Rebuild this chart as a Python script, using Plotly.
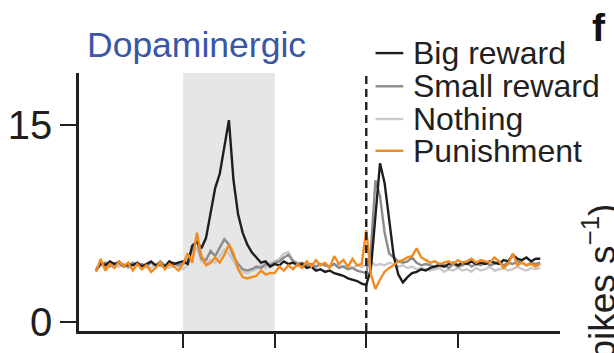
import numpy as np
import plotly.graph_objects as go

# time grid (s), 0.05 s sampling
time_s = [round(-0.95 + 0.05 * i, 2) for i in range(98)]

big_reward = [
    3.9, 4.5, 4.3, 4.6, 4.4, 4.5, 4.2, 4.4, 4.3, 4.5, 4.2, 4.4, 4.6, 4.3, 4.4, 4.2, 4.6, 4.4, 4.5,
    4.6, 4.4, 5.8, 6.1, 5.6, 6.4, 8.3, 10.2, 11.3, 13.4, 15.4, 10.8, 8.2, 6.8, 5.9, 5.3, 4.9, 4.5, 4.6, 4.2,
    4.4, 4.3, 4.6, 4.4, 4.5, 4.3, 4.4, 4.1, 4.2, 3.9, 4.0, 3.8, 3.9, 3.7, 3.6, 3.5, 3.3, 3.2, 3.1, 2.9,
    2.8, 4.0, 8.0, 12.1, 10.6, 7.6, 5.0, 3.6, 3.0, 3.4, 3.7, 3.8, 4.0, 3.9,
    4.1, 4.2, 4.3, 4.2, 4.4, 4.5, 4.3, 4.5, 4.4, 4.6, 4.4, 4.5, 4.4, 4.6, 4.5, 4.4, 4.7, 4.6, 5.1, 4.8,
    4.7, 4.9, 4.6, 4.8, 4.8,
]
small_reward = [
    4.0, 4.3, 4.5, 4.2, 4.4, 4.6, 4.3, 4.2, 4.5, 4.3, 4.4, 4.2, 4.5, 4.3, 4.6, 4.3, 4.4, 4.5, 4.3,
    4.4, 4.6, 5.6, 6.2, 4.8, 4.7, 5.4, 5.0, 5.6, 6.3, 5.9, 5.0, 4.4, 4.0, 3.9, 4.0, 4.2, 4.1, 4.4, 4.3,
    4.5, 4.6, 4.9, 5.1, 4.6, 4.4, 4.5, 4.3, 4.4, 4.2, 4.4, 4.3, 4.2, 4.4, 4.1, 4.2, 4.0, 4.1, 3.9, 3.8,
    3.7, 5.5, 10.8, 9.6, 6.8, 5.2, 4.9, 4.6, 4.5, 4.6, 4.9, 4.5, 4.3, 4.4,
    4.3, 4.2, 4.4, 4.3, 4.1, 4.4, 4.2, 4.3, 4.5, 4.2, 4.4, 4.3, 4.5, 4.3, 4.4, 4.6, 4.3, 4.5, 4.4, 4.6,
    4.5, 4.3, 4.5, 4.4, 4.5,
]
nothing = [
    4.1, 4.4, 4.2, 4.5, 4.3, 4.2, 4.4, 4.1, 4.3, 4.4, 4.2, 4.3, 4.1, 4.4, 4.2, 4.3, 4.1, 4.3, 4.2,
    4.0, 4.3, 5.2, 5.6, 4.6, 4.4, 4.7, 4.5, 5.0, 5.5, 5.2, 4.6, 4.1, 3.8, 3.7, 3.9, 4.0, 4.3, 4.1, 4.5,
    4.6, 4.8, 5.2, 5.3, 4.7, 4.5, 4.4, 4.2, 4.3, 4.1, 4.4, 4.3, 4.2, 4.4, 4.3, 4.2, 4.3, 4.1, 4.3, 4.2,
    4.3, 4.6, 4.3, 4.4, 4.3, 4.5, 4.4, 4.2, 4.3, 4.1, 4.2, 4.0, 4.1, 4.0,
    3.9, 4.0, 4.1, 3.8, 4.0, 3.9, 4.1, 3.9, 4.0, 3.8, 4.1, 3.9, 4.0, 4.2, 3.9, 4.0, 4.1, 3.9, 4.0, 4.2,
    4.0, 3.9, 4.1, 4.0, 4.1,
]
punishment = [
    3.8, 4.8, 3.9, 4.4, 4.1, 4.6, 4.2, 4.5, 3.9, 4.4, 4.0, 4.3, 3.8, 4.1, 4.5, 4.0, 4.4, 4.2, 3.9,
    4.4, 5.2, 4.5, 6.8, 5.0, 4.3, 4.5, 4.9, 4.5, 5.1, 5.9, 5.2, 4.0, 3.4, 3.3, 3.4, 3.5, 3.9, 3.6, 3.7,
    3.7, 4.2, 3.9, 4.3, 4.0, 4.4, 4.1, 4.6, 4.2, 4.7, 4.3, 4.5, 4.1, 5.0, 4.4, 4.7, 4.2, 4.8, 4.3, 4.4,
    7.0, 3.6, 2.5, 3.2, 3.8, 4.1, 4.3, 4.6, 4.7, 4.9, 5.0, 5.6, 4.9, 4.7,
    4.5, 4.6, 4.4, 4.5, 4.6, 4.4, 4.7, 4.5, 4.6, 4.8, 4.5, 4.7, 4.6, 4.5, 4.9, 4.6, 4.1, 4.4, 5.2, 4.3,
    4.5, 4.3, 4.4, 4.2, 4.4,
]

series_names = ["Big reward", "Small reward", "Nothing", "Punishment"]
series_values = [big_reward, small_reward, nothing, punishment]
series_colors = ["#1e1e1e", "#8c8c8c", "#c9c9c9", "#f28b20"]
draw_order = [2, 1, 0, 3]

cue_window = [0, 1]
reward_time = 2
x_ticks = [0, 1, 2, 3]
y_ticks = [0, 15]
y_tick_labels = ["0", "15"]

FONT = "Liberation Sans, Arial, Helvetica, sans-serif"
AX = "#231f20"

W, H = 614, 353
L, R, T, B = 75, 54, 73, 8
pw, ph = W - L - R, H - T - B

def px_x(p):
    return (p - L) / pw

def px_y(p):
    return (H - B - p) / ph

fig = go.Figure()
for k in draw_order:
    fig.add_trace(go.Scatter(
        x=time_s, y=series_values[k], mode="lines", name=series_names[k],
        line=dict(color=series_colors[k], width=2.4), showlegend=False,
    ))

shapes = [
    dict(type="rect", xref="x", yref="paper", x0=cue_window[0], x1=cue_window[1], y0=0, y1=1,
         fillcolor="#e6e6e6", line=dict(width=0), layer="below"),
    dict(type="line", xref="x", yref="paper", x0=reward_time, x1=reward_time, y0=0, y1=0.995,
         line=dict(color=AX, width=2.4, dash="8px,5px")),
]
annotations = []

# legend (manual)
leg_y = [52, 87, 121.5, 155]
for name, col, yy in zip(series_names, series_colors, leg_y):
    shapes.append(dict(type="line", xref="paper", yref="paper",
                       x0=px_x(374), x1=px_x(402), y0=px_y(yy), y1=px_y(yy),
                       line=dict(color=col, width=2.4)))
    annotations.append(dict(text=name, xref="paper", yref="paper", x=px_x(410), y=px_y(yy),
                            xanchor="left", yanchor="middle", showarrow=False,
                            font=dict(family=FONT, size=32, color="#231f20")))

annotations.append(dict(text="Dopaminergic", xref="paper", yref="paper", x=px_x(81), y=px_y(43),
                        xanchor="left", yanchor="middle", showarrow=False,
                        font=dict(family=FONT, size=35.5, color="#3a56a6")))
annotations.append(dict(text="<b>f</b>", xref="paper", yref="paper", x=px_x(590), y=px_y(25),
                        xanchor="left", yanchor="middle", showarrow=False,
                        font=dict(family=FONT, size=39, color="#111111")))
annotations.append(dict(text="Firing rate (spikes s<sup>\u22121</sup>)", xref="paper", yref="paper",
                        x=px_x(600), y=px_y(208), xanchor="center", yanchor="top",
                        textangle=-90, showarrow=False,
                        font=dict(family=FONT, size=37, color="#231f20")))

fig.update_layout(
    width=W, height=H,
    margin=dict(l=L, r=R, t=T, b=B, pad=0),
    paper_bgcolor="white", plot_bgcolor="white",
    showlegend=False,
    shapes=shapes, annotations=annotations,
    font=dict(family=FONT, color=AX),
    xaxis=dict(range=[(75 - 180) / 92.33, (560 - 180) / 92.33], showgrid=False, zeroline=False,
               showline=True, linecolor=AX, linewidth=2.6, ticks="outside", ticklen=14,
               tickwidth=2.4, tickcolor=AX, tickvals=x_ticks, showticklabels=False),
    yaxis=dict(range=[-0.72, 19.0], showgrid=False, zeroline=False, showline=True,
               linecolor=AX, linewidth=2.6, ticks="outside", ticklen=16, tickwidth=2.4,
               tickcolor=AX, tickvals=y_ticks, ticktext=y_tick_labels,
               tickfont=dict(family=FONT, size=40, color=AX)),
)

fig.write_html("out.html")
